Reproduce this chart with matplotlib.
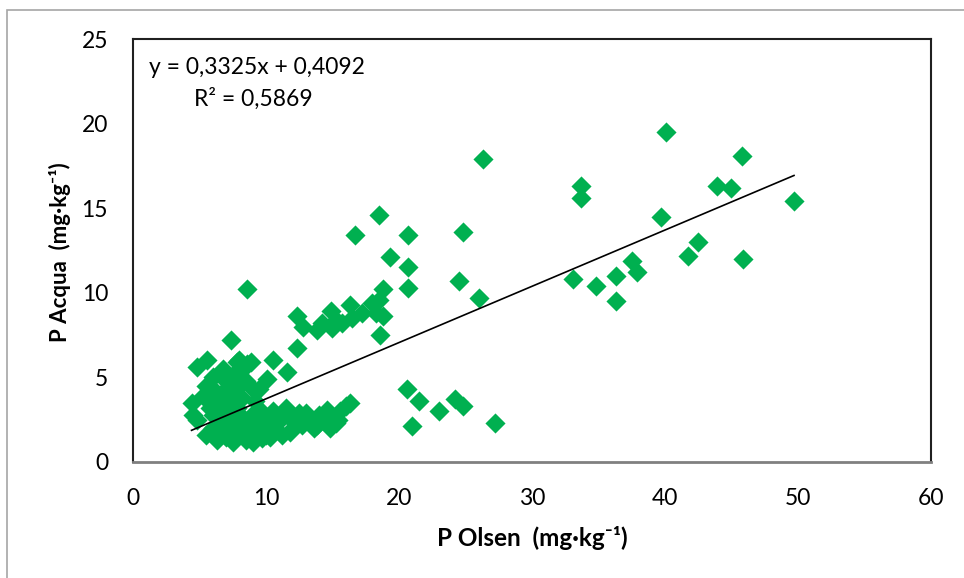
import matplotlib
matplotlib.use("Agg")
import matplotlib.pyplot as plt
from matplotlib.patches import Rectangle
import numpy as np

plt.rcParams['font.family'] = ['Lato', 'DejaVu Sans']

# P Olsen (x) and P Acqua (y) values
p_olsen = [
    # lower band
    5.5, 6.3, 7.0, 7.5, 8.0, 8.5, 9.0, 9.3, 9.7, 10.0, 10.3, 10.7, 11.0, 11.2, 11.6,
    12.0, 12.3, 12.7, 13.0, 13.3, 13.6, 14.0, 14.3, 14.6, 15.0, 15.3, 15.6, 16.0, 16.3,
    15.4, 13.8, 12.5, 11.5, 10.5, 9.5, 8.8, 8.2, 7.6, 6.8, 10.0, 11.8, 14.8,
    6.0, 7.2, 8.4, 9.1, 9.9, 10.8, 6.6, 7.9,
    # left cluster
    4.4, 4.5, 4.8, 4.8, 5.6, 5.5, 6.0, 6.2, 6.5, 5.8, 7.0, 7.2, 7.4, 7.8, 7.6, 8.0,
    8.0, 8.3, 8.6, 8.9, 8.5, 8.2, 7.8, 7.0, 6.5, 9.0, 9.5, 10.1, 10.5, 11.6, 12.3,
    9.2, 9.6, 6.8, 5.3, 6.0, 6.6, 7.3, 5.9,
    # middle rising band
    8.6, 12.3, 12.8, 13.8, 14.2, 14.9, 15.3, 15.0, 15.7, 16.3, 16.5, 17.2, 18.0, 18.3,
    18.8, 18.6, 18.8, 18.5, 16.7, 18.5, 19.3, 20.7, 20.7, 20.7, 24.5, 26.0, 24.8, 26.3,
    # lower middle
    20.6, 21.5, 23.0, 24.2, 24.8, 21.0, 27.2,
    # right
    40.1, 45.8, 33.7, 33.7, 43.9, 45.0, 49.7, 39.7, 42.5, 41.7, 45.9, 37.5, 37.9,
    33.1, 34.8, 36.3, 36.3,
]
p_acqua = [
    # lower band
    1.6, 1.3, 1.5, 1.2, 1.6, 1.3, 1.2, 1.8, 1.4, 2.2, 1.5, 1.9, 2.5, 1.6, 2.8,
    2.0, 2.6, 2.2, 2.9, 2.4, 2.0, 2.8, 2.5, 3.1, 2.7, 2.3, 3.0, 3.3, 3.5,
    2.5, 2.2, 2.9, 3.2, 3.0, 2.6, 2.2, 2.6, 2.0, 2.3, 1.6, 1.8, 2.0,
    2.0, 2.4, 1.9, 2.9, 2.6, 2.3, 1.8, 2.9,
    # left cluster
    3.5, 2.8, 2.5, 5.6, 6.0, 4.5, 5.0, 4.2, 3.5, 3.2, 4.8, 4.0, 7.2, 5.9, 5.2, 4.5,
    6.0, 5.5, 5.8, 5.9, 4.8, 3.8, 3.2, 3.0, 2.6, 4.3, 4.3, 4.9, 6.0, 5.3, 6.75,
    3.6, 3.0, 5.5, 3.9, 2.8, 4.0, 3.5, 3.7,
    # middle rising band
    10.25, 8.65, 8.0, 7.8, 8.2, 8.9, 8.4, 7.9, 8.2, 9.3, 8.5, 8.8, 9.4, 8.8,
    8.6, 7.5, 10.2, 9.6, 13.4, 14.6, 12.1, 13.4, 11.5, 10.3, 10.7, 9.7, 13.6, 17.9,
    # lower middle
    4.3, 3.6, 3.0, 3.7, 3.3, 2.1, 2.3,
    # right
    19.5, 18.1, 16.3, 15.6, 16.3, 16.2, 15.4, 14.5, 13.0, 12.2, 12.0, 11.9, 11.2,
    10.8, 10.4, 11.0, 9.5,
]

slope = 0.3325
intercept = 0.4092
r2 = 0.5869
x_ticks = [0, 10, 20, 30, 40, 50, 60]
y_ticks = [0, 5, 10, 15, 20, 25]

fig = plt.figure(figsize=(9.64, 5.78), dpi=100)
ax = fig.add_axes([133/964, 1 - 462/578, (931-133)/964, (462-39)/578])

ax.scatter(p_olsen, p_acqua, marker='D', s=105, color='#00B050', linewidths=0, zorder=3)

xs = np.array([min(p_olsen), max(p_olsen)])
ax.plot(xs, slope * xs + intercept, color='black', linewidth=1.2, zorder=4)

ax.set_xlim(0, 60)
ax.set_ylim(0, 25)
ax.set_xticks(x_ticks)
ax.set_yticks(y_ticks)
ax.tick_params(axis='both', length=0, labelsize=16.5, colors='black')
ax.tick_params(axis='x', pad=19)
ax.tick_params(axis='y', pad=18)

for side in ['top', 'right', 'left']:
    ax.spines[side].set_color('#202020')
    ax.spines[side].set_linewidth(1.5)
ax.spines['bottom'].set_color('#808080')
ax.spines['bottom'].set_linewidth(2.0)

ax.set_xlabel('P Olsen  (mg·kg⁻¹)', fontsize=17.5, fontweight='bold', labelpad=12)
ax.set_ylabel('P Acqua  (mg·kg⁻¹)', fontsize=16, fontweight='bold')
ax.yaxis.set_label_coords(-(133 - 71) / (931 - 133), (462 - 252) / (462 - 39))

def fmt(v):
    return str(v).replace('.', ',')

ax.text((257 - 133) / (931 - 133), (462 - 67) / (462 - 39),
        f'y = {fmt(slope)}x + {fmt(intercept)}',
        transform=ax.transAxes, ha='center', va='center', fontsize=16.5)
ax.text((253 - 133) / (931 - 133), (462 - 99) / (462 - 39),
        f'R² = {fmt(r2)}',
        transform=ax.transAxes, ha='center', va='center', fontsize=16.5)

fig.patches.append(Rectangle((7/964, -0.1), 1.2, 1 - 10/578 + 0.1,
                             transform=fig.transFigure, fill=False,
                             edgecolor='#A6A6A6', linewidth=1.2))

fig.savefig('out.png', dpi=100)
